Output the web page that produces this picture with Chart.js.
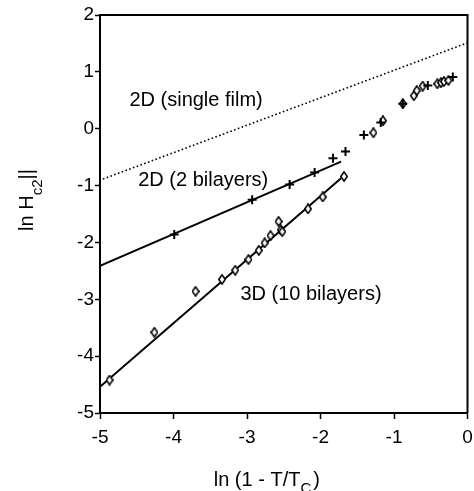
<!DOCTYPE html>
<html>
<head>
<meta charset="utf-8">
<script src="https://cdn.jsdelivr.net/npm/chart.js@4"></script>
<style>
html,body{margin:0;padding:0;background:#fff;}
canvas{display:block;}
</style>
</head>
<body>
<canvas id="c" width="474" height="491"></canvas>
<script>
// ---- data ----
const xTicks = [-5, -4, -3, -2, -1, 0];
const yTicks = [-5, -4, -3, -2, -1, 0, 1, 2];

// 2 bilayers (plus markers)
const bilayer2X = [-3.99, -2.93, -2.42, -2.08, -1.83, -1.66, -1.41, -1.18, -0.88, -0.54, -0.20];
const bilayer2Y = [-1.86, -1.25, -0.98, -0.77, -0.52, -0.40, -0.11, 0.11, 0.44, 0.76, 0.91];

// 10 bilayers (open diamonds)
const bilayer10X = [-4.87, -4.26, -3.70, -3.34, -3.16, -2.98, -2.84, -2.76, -2.68, -2.57, -2.54, -2.52,
                    -2.17, -1.97, -1.68, -1.28, -1.15, -0.88, -0.73, -0.69, -0.61, -0.41, -0.36, -0.32, -0.26];
const bilayer10Y = [-4.42, -3.58, -2.86, -2.65, -2.49, -2.30, -2.14, -2.01, -1.88, -1.63, -1.78, -1.81,
                    -1.41, -1.20, -0.84, -0.07, 0.14, 0.44, 0.58, 0.67, 0.75, 0.79, 0.81, 0.83, 0.85];

// theory / fit lines
const singleFilmX = [-4.96, 0];
const singleFilmY = [-0.885, 1.51];
const fit2X = [-5, -1.72];
const fit2Y = [-2.41, -0.58];
const fit10X = [-5, -1.72];
const fit10Y = [-4.54, -0.87];

const curveLabels = ["2D (single film)", "2D (2 bilayers)", "3D (10 bilayers)"];
const xTitle = ["ln (1 - T/T", "C", ")"];
const yTitle = ["ln H", "c2", "||"];

// ---- helpers ----
const pts = (xs, ys) => xs.map((x, i) => ({x: x, y: ys[i]}));

const diamond = document.createElement('canvas');
diamond.width = 8; diamond.height = 11;
(function(){
  const g = diamond.getContext('2d');
  g.beginPath();
  g.moveTo(4, 0.9); g.lineTo(7.2, 5.5); g.lineTo(4, 10.1); g.lineTo(0.8, 5.5); g.closePath();
  g.fillStyle = '#fff'; g.fill();
  g.lineWidth = 1.6; g.strokeStyle = '#000'; g.stroke();
})();

const FONT = '"Liberation Sans", Arial, Helvetica, sans-serif';

// label anchors in data units (left, baseline)
const labelAnchors = [[-4.60, 0.40], [-4.48, -1.00], [-3.09, -3.02]];

const decor = {
  id: 'decor',
  afterDatasetsDraw(chart) {
    const {ctx, chartArea: a, scales} = chart;
    ctx.save();
    // frame top/right
    ctx.strokeStyle = '#000';
    ctx.lineWidth = 2;
    ctx.beginPath();
    ctx.moveTo(a.left, a.top); ctx.lineTo(a.right, a.top); ctx.lineTo(a.right, a.bottom);
    ctx.stroke();
    // curve labels
    ctx.fillStyle = '#000';
    ctx.font = '20px ' + FONT;
    ctx.textAlign = 'left';
    ctx.textBaseline = 'alphabetic';
    curveLabels.forEach((t, i) => {
      ctx.fillText(t, scales.x.getPixelForValue(labelAnchors[i][0]), scales.y.getPixelForValue(labelAnchors[i][1]));
    });
    ctx.restore();
  },
  afterDraw(chart) {
    const {ctx, chartArea: a} = chart;
    ctx.save();
    ctx.fillStyle = '#000';
    ctx.textAlign = 'left';
    ctx.textBaseline = 'alphabetic';
    const big = '20px ' + FONT, small = '15px ' + FONT;
    // x title
    let x = (a.left + a.right) / 2 - 70, y = 486;
    ctx.font = big; ctx.fillText(xTitle[0], x, y); x += ctx.measureText(xTitle[0]).width;
    ctx.font = small; ctx.fillText(xTitle[1], x, y + 7); x += ctx.measureText(xTitle[1]).width + 2;
    ctx.font = big; ctx.fillText(xTitle[2], x, y);
    // y title (rotated)
    ctx.font = big;
    const w0 = ctx.measureText(yTitle[0]).width, w2 = ctx.measureText(yTitle[2]).width;
    ctx.font = small;
    const w1 = ctx.measureText(yTitle[1]).width;
    const total = w0 + w1 + w2;
    ctx.translate(33, (a.top + a.bottom) / 2 - 14);
    ctx.rotate(-Math.PI / 2);
    let s = -total / 2;
    ctx.font = big; ctx.fillText(yTitle[0], s, 0); s += w0;
    ctx.font = small; ctx.fillText(yTitle[1], s, 9); s += w1;
    ctx.font = big; ctx.fillText(yTitle[2], s, 0);
    ctx.restore();
  }
};

new Chart(document.getElementById('c'), {
  type: 'scatter',
  data: {
    datasets: [
      {
        label: '2 bilayers',
        data: pts(bilayer2X, bilayer2Y),
        pointStyle: 'cross',
        pointRadius: 4.5,
        pointBorderWidth: 2,
        borderColor: '#000',
        backgroundColor: '#000',
        showLine: false
      },
      {
        label: '10 bilayers',
        data: pts(bilayer10X, bilayer10Y),
        pointStyle: diamond,
        pointRadius: 4,
        borderColor: '#000',
        backgroundColor: '#fff',
        showLine: false
      },
      {
        label: 'fit 2',
        data: pts(fit2X, fit2Y),
        showLine: true,
        pointRadius: 0,
        borderColor: '#000',
        borderWidth: 2
      },
      {
        label: 'fit 10',
        data: pts(fit10X, fit10Y),
        showLine: true,
        pointRadius: 0,
        borderColor: '#000',
        borderWidth: 2
      },
      {
        label: 'single film',
        data: pts(singleFilmX, singleFilmY),
        showLine: true,
        pointRadius: 0,
        borderColor: '#000',
        borderWidth: 1.6,
        borderDash: [1.6, 2.4]
      }
    ]
  },
  options: {
    responsive: false,
    animation: false,
    devicePixelRatio: 1,
    layout: {padding: {top: 15, right: 3, left: 0, bottom: 0}},
    plugins: {legend: {display: false}, tooltip: {enabled: false}},
    scales: {
      x: {
        type: 'linear', min: -5, max: 0,
        afterBuildTicks: s => { s.ticks = xTicks.map(v => ({value: v})); },
        afterFit: s => { s.height = 78; s.paddingLeft = 0; s.paddingRight = 0; },
        ticks: {color: '#000', font: {family: FONT, size: 19}, padding: 7, maxRotation: 0,
                callback: v => String(v)},
        grid: {drawOnChartArea: false, drawTicks: true, tickLength: 6, tickWidth: 1.5, tickColor: '#000'},
        border: {display: true, color: '#000', width: 2}
      },
      y: {
        type: 'linear', min: -5, max: 2,
        afterBuildTicks: s => { s.ticks = yTicks.map(v => ({value: v})); },
        afterFit: s => { s.width = 100; s.paddingTop = 0; s.paddingBottom = 0; },
        ticks: {color: '#000', font: {family: FONT, size: 19}, padding: 1,
                callback: v => String(v)},
        grid: {drawOnChartArea: false, drawTicks: true, tickLength: 5, tickWidth: 1.5, tickColor: '#000'},
        border: {display: true, color: '#000', width: 2}
      }
    }
  },
  plugins: [decor]
});
</script>
</body>
</html>
